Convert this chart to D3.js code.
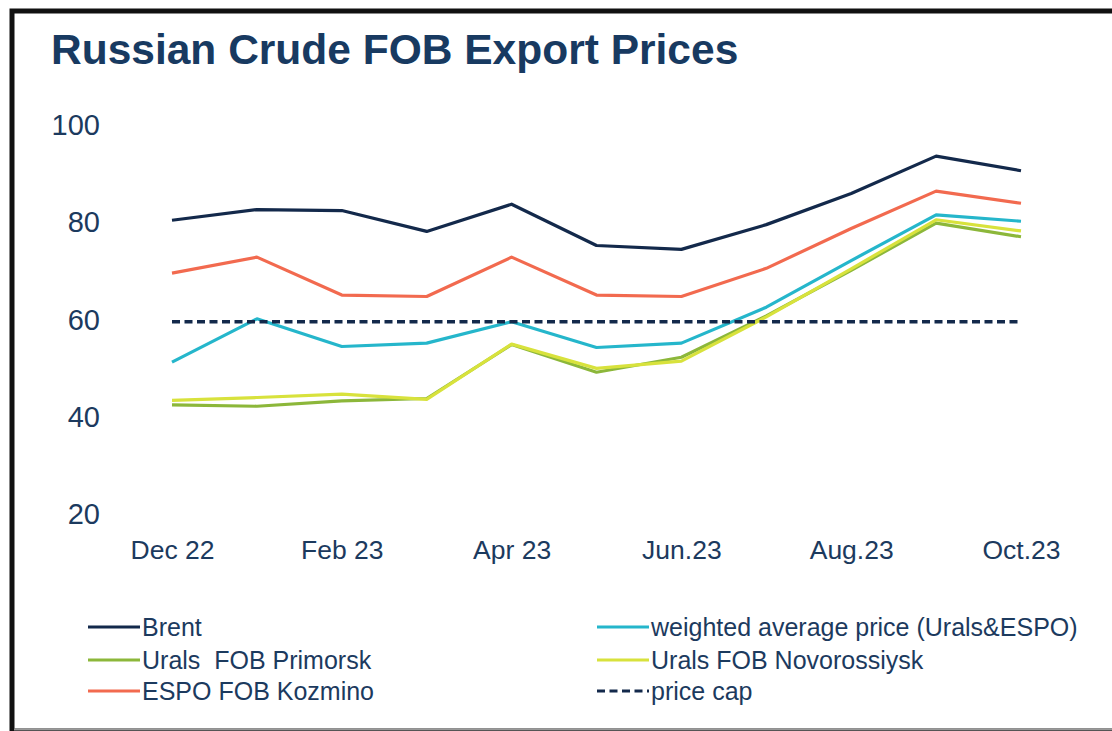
<!DOCTYPE html>
<html><head><meta charset="utf-8">
<script src="https://cdn.jsdelivr.net/npm/d3@7"></script>
<style>html,body{margin:0;padding:0;background:#fff;}svg{display:block;}</style>
</head><body>
<script>
const months = ["Dec 22","Jan 23","Feb 23","Mar 23","Apr 23","May 23","Jun.23","Jul 23","Aug.23","Sep 23","Oct.23"];
const tickLabels = ["Dec 22","Feb 23","Apr 23","Jun.23","Aug.23","Oct.23"];
const yTicks = [20,40,60,80,100];
const brent = [80.9, 83.1, 82.9, 78.6, 84.2, 75.7, 74.9, 80.0, 86.4, 94.1, 91.1];
const espo = [70.0, 73.3, 65.5, 65.2, 73.3, 65.5, 65.2, 71.0, 79.2, 86.9, 84.4];
const weighted = [51.7, 60.6, 54.9, 55.6, 60.0, 54.7, 55.6, 63.0, 72.6, 82.0, 80.7];
const primorsk = [42.9, 42.6, 43.7, 44.2, 55.3, 49.6, 52.7, 61.2, 70.6, 80.3, 77.5];
const novorossiysk = [43.8, 44.4, 45.1, 44.0, 55.4, 50.4, 51.9, 61.0, 70.9, 81.0, 78.7];
const priceCap = [60,60,60,60,60,60,60,60,60,60,60];

const W = 1112, H = 731;
const svg = d3.select("body").append("svg").attr("width", W).attr("height", H);
svg.append("rect").attr("width", W).attr("height", H).attr("fill", "#fff");
// frame
svg.append("rect").attr("x", 12).attr("y", 11).attr("width", 1130).attr("height", 720)
  .attr("fill", "none").attr("stroke", "#111").attr("stroke-width", 5);
svg.append("line").attr("x1", 14).attr("x2", W).attr("y1", 729.5).attr("y2", 729.5)
  .attr("stroke", "#999").attr("stroke-width", 2);

const textCol = "#1c3a5e";
svg.append("text").attr("x", 51).attr("y", 64)
  .attr("font-family", "Liberation Sans, Arial, sans-serif").attr("font-weight", "bold")
  .attr("font-size", 42.5).attr("fill", "#183a61").text("Russian Crude FOB Export Prices");

const x = d3.scalePoint().domain(months).range([172, 1021]);
const y = d3.scaleLinear().domain([20, 100]).range([516, 127.5]);

// y labels
const yAxis = d3.axisLeft(y).tickValues(yTicks).tickSize(0).tickPadding(0);
const gy = svg.append("g").attr("transform", "translate(100,-2)").call(yAxis);
gy.select(".domain").remove();
gy.selectAll("text").attr("font-family", "Liberation Sans, Arial, sans-serif")
  .attr("font-size", 29).attr("fill", textCol);

// x labels
const xAxis = d3.axisBottom(x).tickValues(tickLabels).tickSize(0).tickPadding(0);
const gx = svg.append("g").attr("transform", "translate(0,540)").call(xAxis);
gx.select(".domain").remove();
gx.selectAll("text").attr("font-family", "Liberation Sans, Arial, sans-serif")
  .attr("font-size", 26.5).attr("fill", textCol).attr("dy", "0.71em");

const series = [
  {name:"ESPO FOB Kozmino", vals: espo, color:"#f26a4f", dash:null},
  {name:"Brent", vals: brent, color:"#13294b", dash:null},
  {name:"weighted average price (Urals&ESPO)", vals: weighted, color:"#25b6cb", dash:null},
  {name:"Urals  FOB Primorsk", vals: primorsk, color:"#8cb73a", dash:null},
  {name:"Urals FOB Novorossiysk", vals: novorossiysk, color:"#d8e23c", dash:null},
  {name:"price cap", vals: priceCap, color:"#13294b", dash:"8,4.5"}
];
const line = d3.line().x((d,i)=>x(months[i])).y(d=>y(d));
series.forEach(s=>{
  svg.append("path").datum(s.vals).attr("d", line).attr("fill","none")
    .attr("stroke", s.color).attr("stroke-width", s.dash ? 3.5 : 3.2)
    .attr("stroke-linejoin","round")
    .attr("stroke-dasharray", s.dash);
});

// legend
const legendItems = [
  {name:"Brent", color:"#13294b", dash:null, col:0, row:0},
  {name:"weighted average price (Urals&ESPO)", color:"#25b6cb", dash:null, col:1, row:0},
  {name:"Urals  FOB Primorsk", color:"#8cb73a", dash:null, col:0, row:1},
  {name:"Urals FOB Novorossiysk", color:"#d8e23c", dash:null, col:1, row:1},
  {name:"ESPO FOB Kozmino", color:"#f26a4f", dash:null, col:0, row:2},
  {name:"price cap", color:"#13294b", dash:"8,4.5", col:1, row:2}
];
const colX = [88, 597], rowY = [627, 660, 691];
legendItems.forEach(it=>{
  const g = svg.append("g").attr("transform", `translate(${colX[it.col]},${rowY[it.row]})`);
  g.append("line").attr("x1",0).attr("x2",52).attr("y1",0).attr("y2",0)
    .attr("stroke", it.color).attr("stroke-width", 3.2).attr("stroke-dasharray", it.dash);
  g.append("text").attr("x", 54).attr("y", 0).attr("dy","0.36em")
    .attr("font-family", "Liberation Sans, Arial, sans-serif").attr("font-size", 25)
    .attr("fill", textCol).style("white-space","pre").attr("xml:space","preserve").text(it.name);
});
</script>
</body></html>
